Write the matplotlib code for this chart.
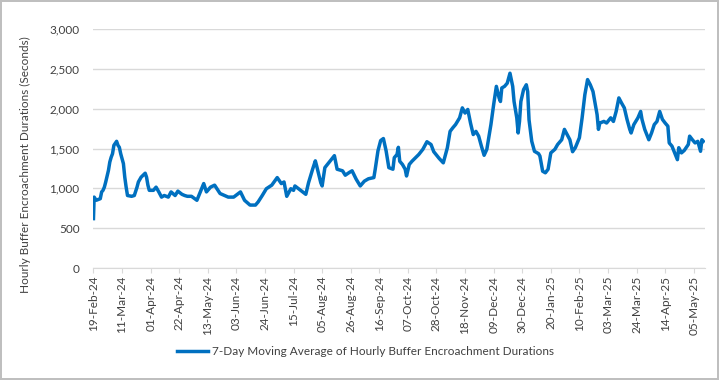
import pandas as pd
import matplotlib.pyplot as plt
import matplotlib.dates as mdates

plt.rcParams['font.family'] = ['Lato', 'DejaVu Sans']

# 7-day moving average
dates = [
    "2024-02-19 00:00", "2024-02-19 12:00", "2024-02-21", "2024-02-24", "2024-02-25",
    "2024-02-26", "2024-02-27", "2024-02-28",
    "2024-03-01", "2024-03-02", "2024-03-03", "2024-03-04", "2024-03-05", "2024-03-07",
    "2024-03-08", "2024-03-09", "2024-03-10", "2024-03-12", "2024-03-13", "2024-03-14",
    "2024-03-15", "2024-03-18", "2024-03-20", "2024-03-22", "2024-03-23", "2024-03-25",
    "2024-03-28", "2024-03-29", "2024-03-30", "2024-03-31",
    "2024-04-03", "2024-04-05", "2024-04-07", "2024-04-09", "2024-04-11", "2024-04-14",
    "2024-04-16", "2024-04-19", "2024-04-21", "2024-04-24", "2024-04-26", "2024-04-28",
    "2024-05-01", "2024-05-05", "2024-05-10", "2024-05-12", "2024-05-15", "2024-05-18",
    "2024-05-22", "2024-05-28",
    "2024-06-01", "2024-06-06", "2024-06-09", "2024-06-13", "2024-06-17", "2024-06-19",
    "2024-06-22", "2024-06-25", "2024-06-29",
    "2024-07-03", "2024-07-06", "2024-07-08", "2024-07-10", "2024-07-13", "2024-07-15",
    "2024-07-16", "2024-07-19", "2024-07-21", "2024-07-24", "2024-07-26", "2024-07-29",
    "2024-07-31",
    "2024-08-01", "2024-08-04", "2024-08-05", "2024-08-07", "2024-08-10", "2024-08-14",
    "2024-08-16", "2024-08-20", "2024-08-22", "2024-08-25", "2024-08-27", "2024-08-30",
    "2024-09-02", "2024-09-05", "2024-09-08", "2024-09-12", "2024-09-13", "2024-09-15",
    "2024-09-17", "2024-09-19", "2024-09-21", "2024-09-23", "2024-09-26", "2024-09-27",
    "2024-09-29", "2024-09-30",
    "2024-10-01", "2024-10-03", "2024-10-05", "2024-10-06", "2024-10-08", "2024-10-10",
    "2024-10-13", "2024-10-15", "2024-10-18", "2024-10-21", "2024-10-24", "2024-10-26",
    "2024-10-30",
    "2024-11-02", "2024-11-03", "2024-11-05", "2024-11-07", "2024-11-09", "2024-11-11",
    "2024-11-14", "2024-11-16", "2024-11-18", "2024-11-20", "2024-11-22", "2024-11-24",
    "2024-11-26", "2024-11-28", "2024-11-30",
    "2024-12-02", "2024-12-04", "2024-12-07", "2024-12-09", "2024-12-11", "2024-12-13",
    "2024-12-14", "2024-12-15", "2024-12-17", "2024-12-19", "2024-12-21", "2024-12-22",
    "2024-12-23", "2024-12-24", "2024-12-26", "2024-12-27", "2024-12-28", "2024-12-29",
    "2024-12-31",
    "2025-01-02", "2025-01-03", "2025-01-04", "2025-01-06", "2025-01-08", "2025-01-11",
    "2025-01-12", "2025-01-14", "2025-01-16", "2025-01-18", "2025-01-20", "2025-01-23",
    "2025-01-25", "2025-01-28", "2025-01-30",
    "2025-02-01", "2025-02-03", "2025-02-05", "2025-02-07", "2025-02-10", "2025-02-12",
    "2025-02-14", "2025-02-16", "2025-02-18", "2025-02-20", "2025-02-23", "2025-02-24",
    "2025-02-25", "2025-02-28",
    "2025-03-02", "2025-03-05", "2025-03-07", "2025-03-09", "2025-03-11", "2025-03-13",
    "2025-03-15", "2025-03-17", "2025-03-19", "2025-03-20", "2025-03-22", "2025-03-25",
    "2025-03-27", "2025-03-28", "2025-03-30",
    "2025-04-02", "2025-04-04", "2025-04-06", "2025-04-08", "2025-04-10", "2025-04-12",
    "2025-04-14", "2025-04-16", "2025-04-17", "2025-04-19", "2025-04-21", "2025-04-23",
    "2025-04-24", "2025-04-26", "2025-04-28",
    "2025-05-01", "2025-05-02", "2025-05-04", "2025-05-06", "2025-05-08", "2025-05-10",
    "2025-05-11", "2025-05-12",
]

values = [
    620, 890, 850, 870, 955,
    975, 1015, 1080,
    1225, 1330, 1390, 1435, 1540, 1590,
    1540, 1515, 1435, 1310, 1140, 1015,
    910, 900, 910, 1015, 1080, 1140,
    1190, 1140, 1040, 975,
    975, 1015, 955, 890, 910, 890,
    955, 910, 965, 925, 910, 900,
    900, 850, 1060, 955, 1015, 1040,
    935, 890,
    890, 955, 850, 790, 790, 830,
    910, 995, 1040,
    1135, 1060, 1080, 900, 995, 975,
    1030, 990, 965, 925, 1070, 1240,
    1345,
    1280, 1070, 1030, 1260, 1325, 1410,
    1240, 1220, 1165, 1200, 1220, 1115,
    1030, 1090, 1120, 1135, 1240, 1470,
    1600, 1625, 1470, 1260, 1240, 1385,
    1425, 1515,
    1340, 1300, 1240, 1155, 1300, 1340,
    1390, 1425, 1490, 1585, 1550, 1460,
    1375,
    1320, 1385, 1510, 1715, 1760, 1800,
    1885, 2010, 1945, 1990, 1820, 1675,
    1715, 1655, 1530,
    1415, 1490, 1800, 2050, 2280, 2135,
    2090, 2260, 2280, 2320, 2445, 2365,
    2280, 2090, 1885, 1695, 1840, 2090,
    2240,
    2300, 2215, 1860, 1590, 1465, 1435,
    1405, 1215, 1195, 1240, 1445, 1490,
    1550, 1610, 1740,
    1675, 1610, 1460, 1510, 1635, 1885,
    2175, 2365, 2300, 2215, 1925, 1740,
    1820, 1840,
    1820, 1885, 1840, 1965, 2135, 2070,
    2010, 1865, 1740, 1695, 1800, 1885,
    1965, 1865, 1740,
    1610, 1695, 1800, 1840, 1965, 1865,
    1820, 1780, 1570, 1530, 1445, 1360,
    1510, 1445, 1475,
    1550, 1655, 1610, 1570, 1590, 1465,
    1610, 1590,
]

series = pd.Series(values, index=pd.to_datetime(dates, format='mixed'))
label = '7-Day Moving Average of Hourly Buffer Encroachment Durations'
text_color = '#404040'
grid_color = '#D9D9D9'

fig = plt.figure(figsize=(7.19, 3.80), dpi=100)
fig.patch.set_edgecolor('#BFBFBF')
fig.patch.set_linewidth(1.5)
ax = fig.add_axes([0.130, 0.2947, 0.850, 0.629])

ax.plot(series.index, series.values, color='#0070C0', lw=2.5, label=label)

# axis ranges and ticks
ax.set_ylim(0, 3000)
ax.set_yticks(range(0, 3001, 500))
ax.yaxis.set_major_formatter(plt.FuncFormatter(lambda v, p: f'{int(v):,}'))
ax.set_xlim(pd.Timestamp('2024-02-19'), pd.Timestamp('2025-05-13'))
ticks = pd.date_range('2024-02-19', '2025-05-05', freq='21D')
ax.set_xticks(ticks)
ax.xaxis.set_major_formatter(mdates.DateFormatter('%d-%b-%y'))
plt.setp(ax.get_xticklabels(), rotation=90, ha='center')

ax.grid(axis='y', color=grid_color, lw=1)
ax.set_axisbelow(True)
for side in ['top', 'right', 'left']:
    ax.spines[side].set_visible(False)
ax.spines['bottom'].set_color(grid_color)
ax.tick_params(axis='y', length=0, pad=10, labelsize=8.5, labelcolor=text_color)
ax.tick_params(axis='x', length=3.5, color=grid_color, pad=2, labelsize=8.5, labelcolor=text_color)

fig.text(0.035, 0.567, 'Hourly Buffer Encroachment Durations (Seconds)', rotation=90,
         ha='center', va='center', fontsize=8.5, color=text_color)

fig.legend(loc='center', bbox_to_anchor=(0.508, 0.074), frameon=False, fontsize=8.5,
           handlelength=2.7, handletextpad=0.3, labelcolor=text_color)

fig.savefig('out.png', dpi=100)
